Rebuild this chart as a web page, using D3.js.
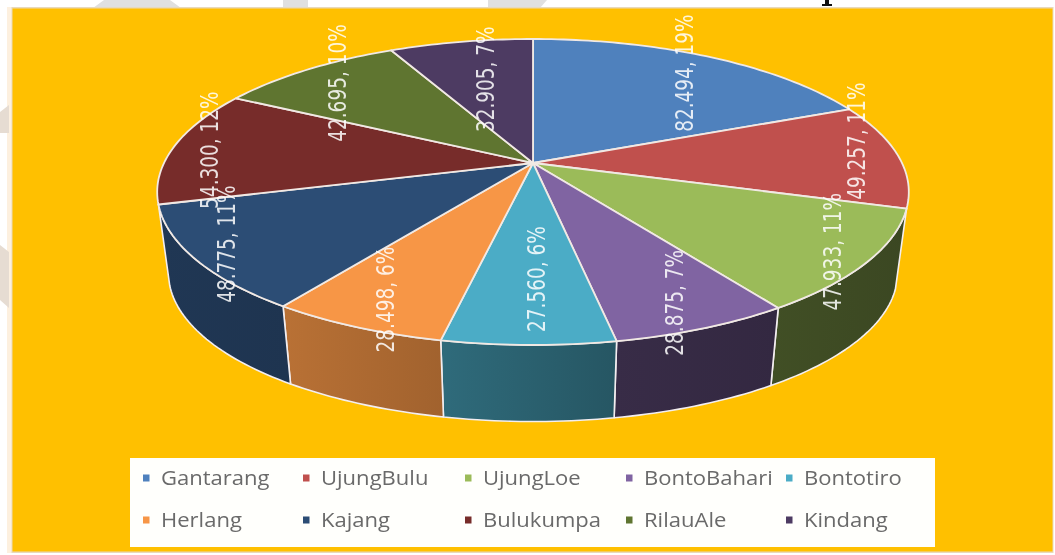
<!DOCTYPE html>
<html><head><meta charset="utf-8">
<script src="https://cdn.jsdelivr.net/npm/d3@7/dist/d3.min.js"></script>
<style>html,body{margin:0;padding:0;background:#fff;overflow:hidden}svg{display:block;filter:blur(0.6px)}</style>
</head><body><svg id="c" width="1055" height="555"></svg>
<script>
const categories=["Gantarang","UjungBulu","UjungLoe","BontoBahari","Bontotiro","Herlang","Kajang","Bulukumpa","RilauAle","Kindang"];
const values=[82494,49257,47933,28875,27560,28498,48775,54300,42695,32905];
const valueLabels=["82.494","49.257","47.933","28.875","27.560","28.498","48.775","54.300","42.695","32.905"];
const percentLabels=["19%","11%","11%","7%","6%","6%","11%","12%","10%","7%"];
const colors=["#4F81BD","#C0504D","#9BBB59","#8064A2","#4BACC6","#F79646","#2C4D75","#772C2A","#5F7530","#4D3B62"];

// layout
const W=1055,H=555;
const apex={x:533,y:163},A=369,B=147.5,K=0.1895,wallDrop=82,wallScale=0.97;
const labelRadius=0.9;
const labelNudge=[[-9,7],[-5,-15],[2,1],[-8,-6],[8,-44],[9,-8],[-6,-4],[0,2],[10,5],[18,27]];
const wallShade={2:[.42,.38],3:[.44,.40],4:[.62,.50],5:[.75,.65],6:[.72,.68]};
const legendCols=[143,303,465,626,786],legendRows=[478,520],legendTextGap=18;

const svg=d3.select("#c");
const defs=svg.append("defs");
function proj(theta,r,bottom){
  const u=r*Math.sin(theta),v=-r*Math.cos(theta),w=1-K*v,s=bottom?wallScale:1;
  return [apex.x+s*A*u/w, apex.y+(bottom?wallDrop:0)+s*B*v/w];
}
function arcPts(a0,a1,r,bottom){
  const n=Math.max(2,Math.ceil((a1-a0)/0.02));
  return d3.range(n+1).map(i=>proj(a0+(a1-a0)*i/n,r,bottom));
}
const line=d3.line();
const arcs=d3.pie().sort(null).value(d=>d)(values);

// page backdrop fragments
svg.append("g").attr("fill","#e0e0e0").selectAll("path")
 .data(["M93 8L104 0H170L181 8Z","M283 8V0H308V8Z","M488 8V0H547L540 8Z"]).join("path").attr("d",d=>d);
svg.append("rect").attr("x",7).attr("y",7).attr("width",5).attr("height",546).attr("fill","#fdf0df");
svg.append("g").attr("fill","#e6dcd2").selectAll("path")
 .data(["M0 112L9 105V133H0Z","M0 245L9 252V308L0 300Z"]).join("path").attr("d",d=>d);
svg.append("path").attr("d","M822 6H832V4H829V0H825V4H822Z").attr("fill","#111");
svg.append("rect").attr("x",11.5).attr("y",7).attr("width",1042).attr("height",546).attr("fill","#e9d9ba");
svg.append("rect").attr("x",12.5).attr("y",8.5).attr("width",1040).attr("height",543).attr("fill","#FFC000");

// walls
const wallIdx=arcs.map((d,i)=>i).filter(i=>{const m=(arcs[i].startAngle+arcs[i].endAngle)/2;return m>Math.PI/2&&m<Math.PI*1.5;});
wallIdx.forEach(i=>{
  const d=arcs[i],top=arcPts(d.startAngle,d.endAngle,1,false),bot=arcPts(d.startAngle,d.endAngle,1,true).reverse();
  const xs=top.concat(bot).map(p=>p[0]),c=d3.color(colors[i]),sh=wallShade[i];
  const g=defs.append("linearGradient").attr("id","w"+i).attr("gradientUnits","userSpaceOnUse")
    .attr("x1",d3.min(xs)).attr("x2",d3.max(xs)).attr("y1",0).attr("y2",0);
  const scaled=f=>d3.rgb(c.r*f,c.g*f,c.b*f).formatHex();
  g.append("stop").attr("offset",0).attr("stop-color",scaled(sh[0]));
  g.append("stop").attr("offset",1).attr("stop-color",scaled(sh[1]));
  svg.append("path").attr("d",line(top.concat(bot))+"Z").attr("fill",`url(#w${i})`)
    .attr("stroke","#f3eef0").attr("stroke-width",1.6).attr("stroke-linejoin","round");
});
// top face
arcs.forEach((d,i)=>{
  const pts=[[apex.x,apex.y]].concat(arcPts(d.startAngle,d.endAngle,1,false));
  svg.append("path").attr("d",line(pts)+"Z").attr("fill",colors[i])
    .attr("stroke","#f1e9e4").attr("stroke-width",1.8).attr("stroke-linejoin","round");
});
// labels
arcs.forEach((d,i)=>{
  const p=proj((d.startAngle+d.endAngle)/2,labelRadius,false);
  svg.append("text").attr("transform",`translate(${p[0]+labelNudge[i][0]},${p[1]+labelNudge[i][1]}) rotate(-90) scale(1,1.3)`)
    .attr("text-anchor","middle").attr("dominant-baseline","central")
    .attr("font-family","'DejaVu Sans'").attr("font-size",18.5).attr("fill","#fff").attr("fill-opacity",0.85)
    .text(`${valueLabels[i]}, ${percentLabels[i]}`);
});
// legend
svg.append("rect").attr("x",130).attr("y",458).attr("width",805).attr("height",89).attr("fill","#fffffc");
categories.forEach((c,i)=>{
  const x=legendCols[i%5],y=legendRows[Math.floor(i/5)];
  svg.append("rect").attr("x",x).attr("y",y-3.5).attr("width",6.5).attr("height",7).attr("fill",colors[i]);
  svg.append("text").attr("transform",`translate(${x+legendTextGap},${y}) scale(1.13,1)`).attr("dominant-baseline","central")
    .attr("font-family","'Open Sans'").attr("font-size",19.5).attr("fill","#6a6a6a").text(c);
});
</script></body></html>
